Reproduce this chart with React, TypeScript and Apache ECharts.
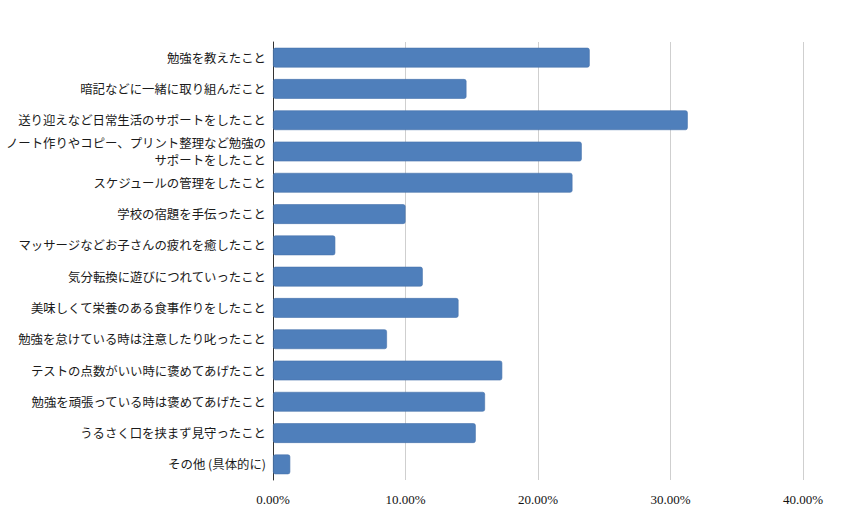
import React, { useEffect, useRef } from "react";
import * as echarts from "echarts";

const categories = [
  "勉強を教えたこと",
  "暗記などに一緒に取り組んだこと",
  "送り迎えなど日常生活のサポートをしたこと",
  "ノート作りやコピー、プリント整理など勉強の\nサポートをしたこと",
  "スケジュールの管理をしたこと",
  "学校の宿題を手伝ったこと",
  "マッサージなどお子さんの疲れを癒したこと",
  "気分転換に遊びにつれていったこと",
  "美味しくて栄養のある食事作りをしたこと",
  "勉強を怠けている時は注意したり叱ったこと",
  "テストの点数がいい時に褒めてあげたこと",
  "勉強を頑張っている時は褒めてあげたこと",
  "うるさく口を挟まず見守ったこと",
  "その他 (具体的に)",
];

// percent
const values = [23.9, 14.6, 31.3, 23.3, 22.6, 10.0, 4.7, 11.3, 14.0, 8.6, 17.3, 16.0, 15.3, 1.3];

const axisMin = 0;
const axisMax = 40;
const axisStep = 10;

const App: React.FC = () => {
  const chartRef = useRef<HTMLDivElement>(null);

  useEffect(() => {
    if (!chartRef.current) return;
    document.body.style.margin = "0";

    const chart = echarts.init(chartRef.current, undefined, { renderer: "svg" });

    const option: echarts.EChartsOption = {
      animation: false,
      backgroundColor: "#ffffff",
      grid: {
        left: 273,
        right: 51,
        top: 42,
        height: 438,
        containLabel: false,
      },
      xAxis: {
        type: "value",
        min: axisMin,
        max: axisMax,
        interval: axisStep,
        axisLine: { show: false },
        axisTick: { show: false },
        axisLabel: {
          margin: 13,
          fontFamily: "Liberation Serif",
          fontSize: 13,
          color: "#111",
          formatter: (v: number) => `${v.toFixed(2)}%`,
        },
        splitLine: {
          lineStyle: { color: "#cfcfcf", width: 1 },
        },
      },
      yAxis: {
        type: "category",
        data: categories,
        inverse: true,
        axisTick: { show: false },
        axisLine: {
          show: true,
          lineStyle: { color: "#333", width: 1 },
        },
        axisLabel: {
          margin: 7,
          fontFamily: "Noto Sans CJK JP",
          fontSize: 12.4,
          lineHeight: 17,
          color: "#1a1a1a",
          align: "right",
        },
      },
      series: [
        {
          type: "bar",
          data: values,
          barCategoryGap: "37%",
          itemStyle: {
            color: "#4f7fbb",
            borderColor: "#4672ab",
            borderWidth: 0.6,
            borderRadius: 2,
          },
        },
      ],
    };

    chart.setOption(option);

    return () => {
      chart.dispose();
    };
  }, []);

  return <div ref={chartRef} style={{ width: 854, height: 532 }} />;
};

export default App;
